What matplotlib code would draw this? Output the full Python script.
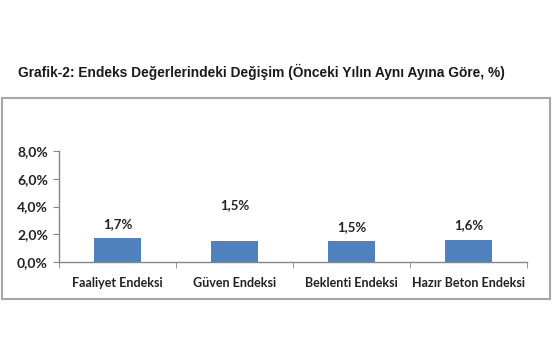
import matplotlib
matplotlib.use("Agg")
import matplotlib.pyplot as plt
from matplotlib.patches import Rectangle

categories = ["Faaliyet Endeksi", "Güven Endeksi", "Beklenti Endeksi", "Hazır Beton Endeksi"]
values = [1.7, 1.5, 1.5, 1.6]
labels = ["1,7%", "1,5%", "1,5%", "1,6%"]
label_offsets = [6, 22, 6, 6]  # points above bar top
yticks = [0, 2, 4, 6, 8]
ytick_labels = ["0,0%", "2,0%", "4,0%", "6,0%", "8,0%"]
title = "Grafik-2: Endeks Değerlerindeki Değişim (Önceki Yılın Aynı Ayına Göre, %)"

W, H = 555, 355
fig = plt.figure(figsize=(W / 100, H / 100), dpi=100)
fig.patch.set_facecolor("white")

# outer frame
fig.patches.append(Rectangle((1.5 / W, 1 - 299 / H), (550 - 1.5) / W, (299 - 98) / H,
                             transform=fig.transFigure, fill=False,
                             edgecolor="#a6a6a6", linewidth=1.5))

fig.text(261 / W, 1 - 72 / H, title, ha="center", va="center",
         fontsize=9.9, fontweight="bold", family=["Liberation Sans", "DejaVu Sans"], color="#1a1a1a")

ax = fig.add_axes([59 / W, 1 - 262 / H, (527 - 59) / W, (262 - 151) / H])
x = list(range(len(categories)))
ax.bar(x, values, width=0.4, color="#4f81bd", zorder=2)
ax.set_xlim(-0.5, len(categories) - 0.5)
ax.set_ylim(0, 8)

font = ["Lato", "DejaVu Sans"]
ax.set_yticks(yticks)
ax.set_yticklabels(ytick_labels, fontsize=10, fontweight="bold", family=font, color="#222222")
ax.set_xticks(x)
ax.set_xticklabels(categories, fontsize=9, fontweight="bold", family=font, color="#222222")
ax.tick_params(axis="x", length=0, pad=11)
ax.tick_params(axis="y", length=4, color="#868686", pad=4)
ax.set_xticks([i - 0.5 for i in range(len(categories) + 1)], minor=True)
ax.tick_params(axis="x", which="minor", length=4, color="#868686", direction="out")

for s in ["top", "right"]:
    ax.spines[s].set_visible(False)
for s in ["left", "bottom"]:
    ax.spines[s].set_color("#868686")
    ax.spines[s].set_linewidth(1)

for xi, v, lab, off in zip(x, values, labels, label_offsets):
    ax.annotate(lab, (xi, v), xytext=(0, off), textcoords="offset points",
                ha="center", va="bottom", fontsize=9.5, fontweight="bold",
                family=font, color="#222222")

fig.savefig("out.png", dpi=100, facecolor="white")
